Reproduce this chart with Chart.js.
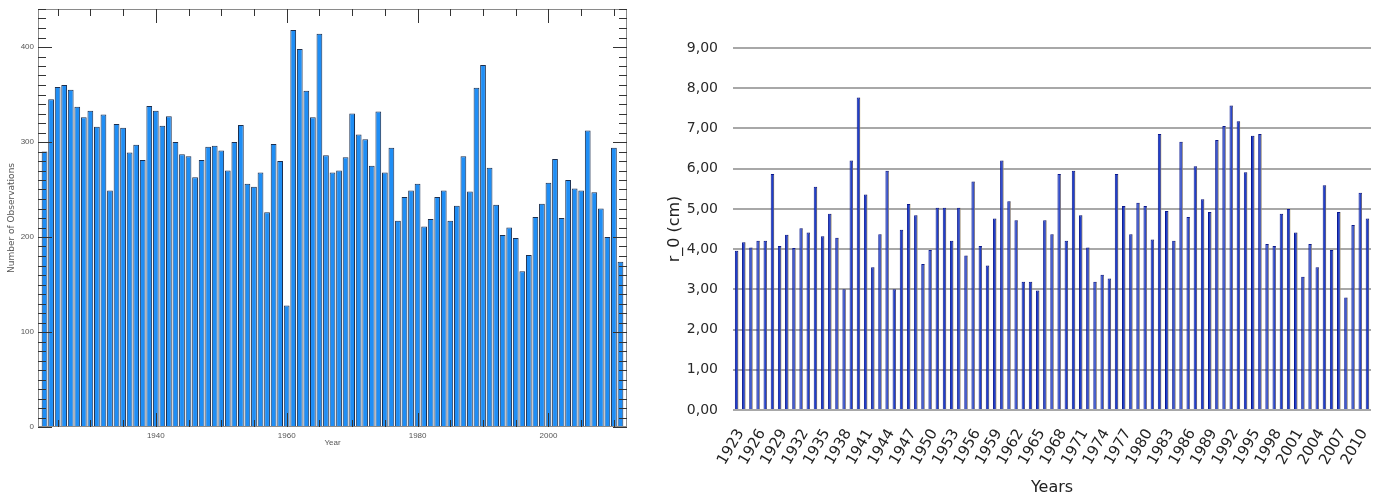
<!DOCTYPE html>
<html>
<head>
<meta charset="utf-8">
<script src="https://cdn.jsdelivr.net/npm/chart.js@4/dist/chart.umd.min.js"></script>
<style>
  html, body { margin: 0; padding: 0; background: #fff; }
  body { width: 1382px; height: 497px; position: relative; overflow: hidden; }
  #leftBox { position: absolute; left: 0; top: 0; width: 640px; height: 460px; }
  #rightBox { position: absolute; left: 650px; top: 0; width: 732px; height: 497px; }
</style>
</head>
<body>
<div id="leftBox"><canvas id="obsChart"></canvas></div>
<div id="rightBox"><canvas id="r0Chart"></canvas></div>
<script>
// years shared by both panels
const years = [
  1923, 1924, 1925, 1926, 1927, 1928, 1929, 1930, 1931, 1932, 1933, 1934, 1935, 1936, 1937,
  1938, 1939, 1940, 1941, 1942, 1943, 1944, 1945, 1946, 1947, 1948, 1949, 1950, 1951, 1952,
  1953, 1954, 1955, 1956, 1957, 1958, 1959, 1960, 1961, 1962, 1963, 1964, 1965, 1966, 1967,
  1968, 1969, 1970, 1971, 1972, 1973, 1974, 1975, 1976, 1977, 1978, 1979, 1980, 1981, 1982,
  1983, 1984, 1985, 1986, 1987, 1988, 1989, 1990, 1991, 1992, 1993, 1994, 1995, 1996, 1997,
  1998, 1999, 2000, 2001, 2002, 2003, 2004, 2005, 2006, 2007, 2008, 2009, 2010, 2011
];

// left panel: number of observations per year
const observations = [
  290, 345, 358, 360, 355, 337, 326, 333, 316, 329, 249, 319, 315, 289, 297,
  281, 338, 333, 317, 327, 300, 287, 285, 263, 281, 295, 296, 291, 270, 300,
  318, 256, 253, 268, 226, 298, 280, 128, 418, 398, 354, 326, 414, 286, 268,
  270, 284, 330, 308, 303, 275, 332, 268, 294, 217, 242, 249, 256, 211, 219,
  242, 249, 217, 233, 285, 248, 357, 381, 273, 234, 202, 210, 199, 164, 181,
  221, 235, 257, 282, 220, 260, 251, 249, 312, 247, 230, 200, 294, 174
];

// right panel: r_0 in cm
const r0Values = [
  3.96, 4.17, 4.04, 4.21, 4.21, 5.87, 4.08, 4.36, 4.03, 4.52, 4.41, 5.55, 4.32, 4.88, 4.28,
  3.00, 6.20, 7.77, 5.36, 3.55, 4.37, 5.95, 3.00, 4.48, 5.12, 4.84, 3.63, 3.98, 5.03, 5.03,
  4.21, 5.03, 3.84, 5.68, 4.08, 3.59, 4.76, 6.20, 5.19, 4.72, 3.19, 3.19, 2.97, 4.72, 4.37,
  5.87, 4.21, 5.95, 4.84, 4.04, 3.19, 3.36, 3.27, 5.87, 5.07, 4.37, 5.15, 5.07, 4.24, 6.86,
  4.95, 4.21, 6.67, 4.80, 6.06, 5.24, 4.92, 6.71, 7.06, 7.57, 7.18, 5.91, 6.82, 6.86, 4.13,
  4.08, 4.88, 5.00, 4.41, 3.31, 4.13, 3.55, 5.59, 3.98, 4.92, 2.80, 4.60, 5.40, 4.76
];

// tick labels
const obsXTicks = [1940, 1960, 1980, 2000];
const obsYTicks = [0, 100, 200, 300, 400];
const r0YTicks = [0, 1, 2, 3, 4, 5, 6, 7, 8, 9];
const r0LabelStep = 3;

// box + inward tick marks like the old IDL style plot
const obsFrame = {
  id: 'obsFrame',
  afterDraw(chart) {
    const { ctx, chartArea: a, scales: { x, y } } = chart;
    ctx.save();
    ctx.strokeStyle = '#8a8a8a';
    ctx.lineWidth = 1;
    ctx.strokeRect(a.left + 0.5, a.top + 0.5, a.width - 1, a.height - 1);
    ctx.strokeStyle = '#333';
    ctx.beginPath();
    for (let v = 0; v <= y.max; v += 10) {
      const py = Math.round(y.getPixelForValue(v)) + 0.5;
      const len = v % 100 === 0 ? 14 : 8;
      ctx.moveTo(a.left, py); ctx.lineTo(a.left + len, py);
      ctx.moveTo(a.right, py); ctx.lineTo(a.right - len, py);
    }
    for (let yr = 1925; yr < x.max; yr += 5) {
      const px = Math.round(x.getPixelForValue(yr)) + 0.5;
      const len = yr % 20 === 0 ? 14 : 7;
      ctx.moveTo(px, a.top); ctx.lineTo(px, a.top + len);
      ctx.moveTo(px, a.bottom); ctx.lineTo(px, a.bottom - len);
    }
    ctx.stroke();
    ctx.restore();
  }
};

// faint yellow glow on the right of each thin bar
const barShadow = {
  id: 'barShadow',
  beforeDatasetsDraw(chart) {
    const ctx = chart.ctx;
    ctx.save();
    ctx.shadowColor = 'rgba(230, 205, 110, 0.85)';
    ctx.shadowOffsetX = 2;
    ctx.shadowOffsetY = 0;
    ctx.shadowBlur = 1;
  },
  afterDatasetsDraw(chart) {
    chart.ctx.restore();
  }
};

const obsCtx = document.getElementById('obsChart').getContext('2d');
new Chart(obsCtx, {
  type: 'bar',
  data: {
    datasets: [{
      data: years.map((yr, i) => ({ x: yr, y: observations[i] })),
      backgroundColor: '#1f8ef5',
      borderColor: '#1c2f4f',
      borderWidth: 1,
      barPercentage: 0.88,
      categoryPercentage: 1
    }]
  },
  options: {
    responsive: true,
    maintainAspectRatio: false,
    animation: false,
    layout: { padding: { top: 9, right: 13, left: 0, bottom: 0 } },
    plugins: { legend: { display: false }, tooltip: { enabled: false } },
    scales: {
      x: {
        type: 'linear',
        min: 1922,
        max: 2012,
        offset: false,
        grid: { display: false, drawTicks: false },
        border: { display: false },
        afterBuildTicks: s => { s.ticks = obsXTicks.map(v => ({ value: v })); },
        afterFit: s => { s.height = 33; },
        ticks: {
          font: { family: 'Liberation Sans', size: 8 },
          color: '#555',
          padding: 4,
          maxRotation: 0,
          callback: v => String(v)
        },
        title: {
          display: true,
          text: 'Year',
          font: { family: 'Liberation Sans', size: 8 },
          color: '#555',
          padding: { top: 0, bottom: 12 }
        }
      },
      y: {
        min: 0,
        max: 440,
        grid: { display: false, drawTicks: false },
        border: { display: false },
        afterBuildTicks: s => { s.ticks = obsYTicks.map(v => ({ value: v })); },
        afterFit: s => { s.width = 38; },
        ticks: {
          font: { family: 'Liberation Sans', size: 8 },
          color: '#555',
          padding: 4
        },
        title: {
          display: true,
          text: 'Number of Observations',
          font: { family: 'DejaVu Sans', size: 9 },
          color: '#555',
          padding: { top: 6, bottom: 0 }
        }
      }
    }
  },
  plugins: [obsFrame]
});

const r0Ctx = document.getElementById('r0Chart').getContext('2d');
new Chart(r0Ctx, {
  type: 'bar',
  data: {
    labels: years.map(String),
    datasets: [{
      data: r0Values,
      backgroundColor: '#1f3fcc',
      borderColor: '#0a1890',
      borderWidth: 1,
      barPercentage: 0.48,
      categoryPercentage: 1
    }]
  },
  options: {
    responsive: true,
    maintainAspectRatio: false,
    animation: false,
    layout: { padding: { top: 48, right: 11, left: 0, bottom: 0 } },
    plugins: { legend: { display: false }, tooltip: { enabled: false } },
    scales: {
      x: {
        grid: { display: false, drawTicks: false },
        border: { display: false },
        afterFit: s => {
          s.height = 87;
          // keep the rotated end labels from shrinking the plot
          s.paddingLeft = 0;
          s.paddingRight = 0;
        },
        ticks: {
          autoSkip: false,
          minRotation: 60,
          maxRotation: 60,
          padding: 16,
          labelOffset: 4,
          font: { family: 'DejaVu Sans', size: 15 },
          color: '#222',
          callback: (v, i) => ((years[i] - years[0]) % r0LabelStep === 0 ? years[i] : '')
        },
        title: {
          display: true,
          text: 'Years',
          font: { family: 'DejaVu Sans', size: 16 },
          color: '#222',
          padding: { top: 0, bottom: 0 }
        }
      },
      y: {
        min: 0,
        max: 9,
        afterBuildTicks: s => { s.ticks = r0YTicks.map(v => ({ value: v })); },
        afterFit: s => { s.width = 83; },
        grid: { color: '#a8a8a8', lineWidth: 2, drawTicks: false },
        border: { display: false },
        ticks: {
          padding: 15,
          font: { family: 'DejaVu Sans', size: 14 },
          color: '#2a2a2a',
          callback: v => v.toFixed(2).replace('.', ',')
        },
        title: {
          display: true,
          text: 'r_0 (cm)',
          font: { family: 'DejaVu Sans', size: 16 },
          color: '#222',
          padding: { top: 15, bottom: 0 }
        }
      }
    }
  },
  plugins: [barShadow]
});
</script>
</body>
</html>
